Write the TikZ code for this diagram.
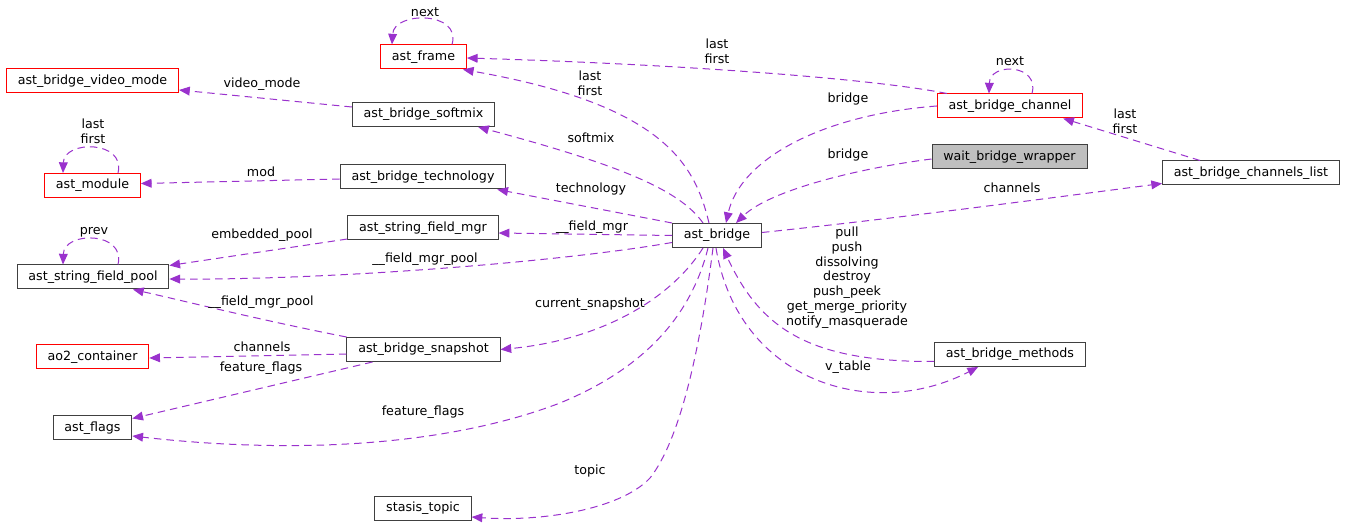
\documentclass[tikz,border=0pt]{standalone}
\usepackage{fontspec}
\newfontfamily\dvs{DejaVu Sans}
\usetikzlibrary{arrows.meta,calc}
\definecolor{edgepurple}{HTML}{9A32CD}
\definecolor{boxline}{HTML}{404040}
\definecolor{redline}{HTML}{FF0000}
\definecolor{hlfill}{HTML}{BFBFBF}
\begin{document}
\begin{tikzpicture}[x=0.75pt,y=-0.75pt,
  cls/.style={draw=boxline, line width=0.75pt, fill=white,
    font=\dvs\fontsize{9.5}{11.1}\selectfont,
    inner xsep=8.5pt, inner ysep=0pt, minimum height=18pt,
    text height=7.2pt, text depth=2.2pt},
  extcls/.style={cls, draw=redline},
  focuscls/.style={cls, fill=hlfill},
  lbl/.style={font=\dvs\fontsize{9.5}{11.1}\selectfont, inner sep=0pt, align=center},
  edge/.style={draw=edgepurple, line width=0.75pt, dash pattern=on 5.6pt off 3.8pt,
    -{Triangle[length=8pt,width=6.6pt]}}]

\fill[white] (0,0) rectangle (1347,527);
\useasboundingbox (0,0) rectangle (1347,527);

% classes
\node[extcls] (fr)   at (423.5,57)   {ast\_frame};
\node[extcls] (vm)   at (92.5,81)    {ast\_bridge\_video\_mode};
\node[extcls] (mod)  at (92.5,185.5) {ast\_module};
\node[cls]    (sm)   at (423.5,114.5){ast\_bridge\_softmix};
\node[cls]    (tech) at (423,177)    {ast\_bridge\_technology};
\node[cls]    (sfm)  at (423,228)    {ast\_string\_field\_mgr};
\node[cls]    (pool) at (93,277)     {ast\_string\_field\_pool};
\node[extcls] (ao2)  at (92.5,357)   {ao2\_container};
\node[cls]    (snap) at (423.5,349.5){ast\_bridge\_snapshot};
\node[cls]    (flags) at (92.5,428)  {ast\_flags};
\node[cls]    (topic) at (423,508)   {stasis\_topic};
\node[cls]    (ab)   at (717,235.5)  {ast\_bridge};
\node[extcls] (ch)   at (1010,106)   {ast\_bridge\_channel};
\node[focuscls] (wbw) at (1009.5,157){wait\_bridge\_wrapper};
\node[cls]    (cl)   at (1251,173)   {ast\_bridge\_channels\_list};
\node[cls]    (bm)   at (1010,354.5) {ast\_bridge\_methods};

% self references
\draw[edge] ($(fr.north)+(28.5,0)$) .. controls (462,11) and (394,11) .. ($(fr.north)+(-31.5,0)$);
\draw[edge] ($(ch.north)+(22,0)$) .. controls (1040,64) and (990,62) .. ($(ch.north)+(-21,0)$);
\draw[edge] ($(mod.north)+(25.5,0)$) .. controls (126,140) and (64,140) .. ($(mod.north)+(-29.5,0)$);
\draw[edge] ($(pool.north)+(25,0)$) .. controls (126,231) and (64,231) .. ($(pool.north)+(-30,0)$);

% left column members
\draw[edge] ($(sm.west)+(0,-7.5)$) -- ($(vm.east)+(0,9)$);
\draw[edge] ($(tech.west)+(0,2)$) -- ($(mod.east)+(0,-2)$);
\draw[edge] ($(sfm.west)+(0,11)$) -- ($(pool.north east)+(0,1)$);
\draw[edge] ($(ab.west)+(0,7)$) .. controls (560,262) and (330,280) .. ($(pool.east)+(0,2)$);
\draw[edge] (snap.north west) .. controls (260,320) and (180,300) .. ($(pool.south)+(40,0)$);
\draw[edge] ($(snap.west)+(0,4.5)$) -- ($(ao2.east)+(0,1)$);
\draw[edge] ($(snap.south west)+(26,0)$) -- ($(flags.north east)+(0,3)$);

% members of ast_bridge
\draw[edge] ($(ab.south)+(-9,0)$) .. controls (690,320) and (640,370) .. (560,403)
            .. controls (450,445) and (300,455) .. ($(flags.east)+(0,8)$);
\draw[edge] ($(ab.south)+(-14,0)$) .. controls (670,300) and (600,340) .. (snap.east);
\draw[edge] ($(ab.south)+(-4,0)$) .. controls (700,350) and (680,440) .. (650,478)
            .. controls (620,510) and (540,522) .. ($(topic.east)+(0,9)$);
\draw[edge] (ab.west) -- ($(sfm.east)+(0,5)$);
\draw[edge] (ab.north west) -- ($(tech.south east)+(-9,0)$);
\draw[edge] ($(ab.north)+(-14,0)$) .. controls (680,190) and (620,165) .. ($(sm.south east)+(-17,0)$);
\draw[edge] ($(ab.north)+(-8,0)$) .. controls (695,165) and (665,105) .. ($(fr.south east)+(-4,0)$);
\draw[edge] ($(ab.east)+(0,-3)$) .. controls (900,218) and (1050,198) .. ($(cl.south west)+(0,-2)$);
\draw[edge] ($(ab.south)+(-1,0)$) .. controls (738,382) and (872,422) .. ($(bm.south west)+(44,0)$);

% right side members
\draw[edge] ($(ch.north west)+(10,0)$) .. controls (880,80) and (700,65) .. ($(fr.east)+(0,1)$);
\draw[edge] (ch.west) .. controls (820,115) and (740,160) .. ($(ab.north)+(9,0)$);
\draw[edge] ($(wbw.west)+(0,2)$) .. controls (860,168) and (770,190) .. ($(ab.north)+(19,0)$);
\draw[edge] ($(cl.north west)+(38,0)$) -- ($(ch.south east)+(-20,0)$);
\draw[edge] ($(bm.west)+(0,7)$) .. controls (808,362) and (760,328) .. ($(ab.south)+(6,0)$);

% member names
\node[lbl] (l1)  at (425,12)    {next};
\node[lbl] (l2)  at (262,84)    {video\_mode};
\node[lbl] (l3)  at (93,131.5)  {last\\first};
\node[lbl] (l4)  at (261,172)   {mod};
\node[lbl] (l5)  at (94,232)    {prev};
\node[lbl] (l6)  at (262,235)   {embedded\_pool};
\node[lbl] (l7)  at (425,259)   {\_\_field\_mgr\_pool};
\node[lbl] (l8)  at (261,302)   {\_\_field\_mgr\_pool};
\node[lbl] (l9)  at (262,347)   {channels};
\node[lbl] (l10) at (261,368)   {feature\_flags};
\node[lbl] (l11) at (423,412)   {feature\_flags};
\node[lbl] (l12) at (590,471)   {topic};
\node[lbl] (l13) at (590,304)   {current\_snapshot};
\node[lbl] (l14) at (592,227)   {\_\_field\_mgr};
\node[lbl] (l15) at (591,189)   {technology};
\node[lbl] (l16) at (591,138)   {softmix};
\node[lbl] (l17) at (590,83)    {last\\first};
\node[lbl] (l18) at (717,51.5)  {last\\first};
\node[lbl] (l19) at (1010,61)   {next};
\node[lbl] (l20) at (848,99)    {bridge};
\node[lbl] (l21) at (848,155)   {bridge};
\node[lbl] (l22) at (1012,188)  {channels};
\node[lbl] (l23) at (1125,121)  {last\\first};
\node[lbl] (l24) at (847,277.5) {pull\\push\\dissolving\\destroy\\push\_peek\\get\_merge\_priority\\notify\_masquerade};
\node[lbl] (l25) at (848,367)   {v\_table};
\end{tikzpicture}
\end{document}
